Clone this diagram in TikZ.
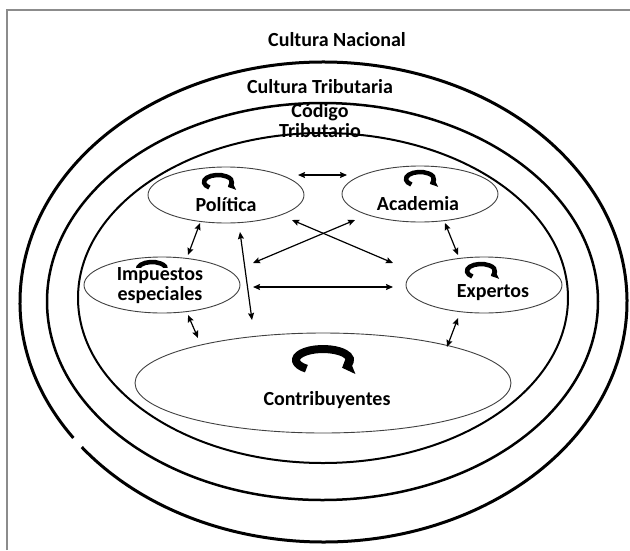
\documentclass[tikz,border=0pt]{standalone}
\usepackage{fontspec}
\setmainfont{Carlito}
\usetikzlibrary{arrows.meta,shapes.geometric}

\tikzset{
  anillo/.style={line width=2.5pt},
  caja/.style={draw=black!75, ellipse, line width=0.9pt, minimum width=156pt, minimum height=56pt, inner sep=0pt},
  flecha/.style={{Stealth[length=7pt,width=6pt,inset=1pt]}-{Stealth[length=7pt,width=6pt,inset=1pt]}, line width=1.2pt},
  ciclo/.style={line width=4.5pt, -{Triangle[length=6pt,width=12pt]}},
  rotulo/.style={font=\fontsize{20}{20}\selectfont\bfseries, inner sep=0pt, align=center},
}

\begin{document}
\begin{tikzpicture}[x=1pt,y=-1pt]
\useasboundingbox (0,0) rectangle (630,550);

%marco
\draw [gray!90, line width=1.2pt] (7,550) -- (7,10) -- (630,10);

%anillos: Cultura Nacional, Cultura Tributaria, Codigo Tributario
\draw [anillo, line width=3pt] (323.5,302) ++(145.5:303.5 and 240) arc [start angle=145.5, end angle=502.8, x radius=303.5, y radius=240];
\draw [anillo] (322.5,301.5) ellipse [x radius=275.5, y radius=198.5];
\draw [anillo, line width=2pt] (323,298) ellipse [x radius=245, y radius=165];

% Text Node
\node [rotulo] (nacional) at (337,40) {Cultura Nacional};
% Text Node
\node [rotulo] (tributaria) at (320,87) {Cultura Tributaria};
% Text Node
\node [rotulo] (codigo) at (320,121) {Código\\Tributario};

%actores
\node [caja] (pol) at (226,195) {};
\node [caja] (aca) at (420,194) {};
\node [caja] (imp) at (162,285) {};
\node [caja] (exp) at (484,285) {};
\node [caja, minimum width=376pt, minimum height=100pt] (con) at (323,383) {};

%ciclos
\draw [ciclo] ([shift={(-8,-13)}]pol.center) ++(128:14 and 7) arc [start angle=128, end angle=405, x radius=14, y radius=7];
\draw [ciclo] ([shift={(0,-15)}]aca.center) ++(128:14 and 7) arc [start angle=128, end angle=405, x radius=14, y radius=7];
\draw [ciclo] ([shift={(-10,-16)}]imp.center) ++(128:14 and 7) arc [start angle=128, end angle=405, x radius=14, y radius=7];
\draw [ciclo] ([shift={(-3,-14)}]exp.center) ++(128:14 and 7) arc [start angle=128, end angle=405, x radius=14, y radius=7];
\draw [ciclo, line width=8pt, -{Triangle[length=10pt,width=21pt]}] ([shift={(0,-23)}]con.center) ++(128:27 and 11) arc [start angle=128, end angle=405, x radius=27, y radius=11];

% Text Node
\node [rotulo] (pol-t) at ([shift={(0,10)}]pol.center) {Política};
% Text Node
\node [rotulo] (aca-t) at ([shift={(-2,10)}]aca.center) {Academia};
% Text Node
\node [rotulo, fill=white] (imp-t) at ([shift={(-2,1)}]imp.center) {Impuestos\\especiales};
% Text Node
\node [rotulo, fill=white] (exp-t) at ([shift={(9,8)}]exp.center) {Expertos};
% Text Node
\node [rotulo] (con-t) at ([shift={(4,17)}]con.center) {Contribuyentes};

%relaciones
\draw [flecha] ([shift={(72,-20)}]pol.center) -- ([shift={(-73,-19)}]aca.center);
\draw [flecha] ([shift={(-26,28)}]pol.center) -- ([shift={(26,-30)}]imp.center);
\draw [flecha] ([shift={(25,29)}]aca.center) -- ([shift={(-26,-30)}]exp.center);
\draw [flecha] ([shift={(26,30)}]imp.center) -- ([shift={(-125,-45)}]con.center);
\draw [flecha] ([shift={(-26,33)}]exp.center) -- ([shift={(124,-36)}]con.center);
\draw [flecha] ([shift={(14,37)}]pol.center) -- ([shift={(-71,-63)}]con.center);
\draw [flecha] ([shift={(66,25)}]pol.center) -- ([shift={(-91,-22)}]exp.center);
\draw [flecha] ([shift={(-65,26)}]aca.center) -- ([shift={(91,-22)}]imp.center);
\draw [flecha] ([shift={(91,2)}]imp.center) -- ([shift={(-91,2)}]exp.center);

\end{tikzpicture}
\end{document}
